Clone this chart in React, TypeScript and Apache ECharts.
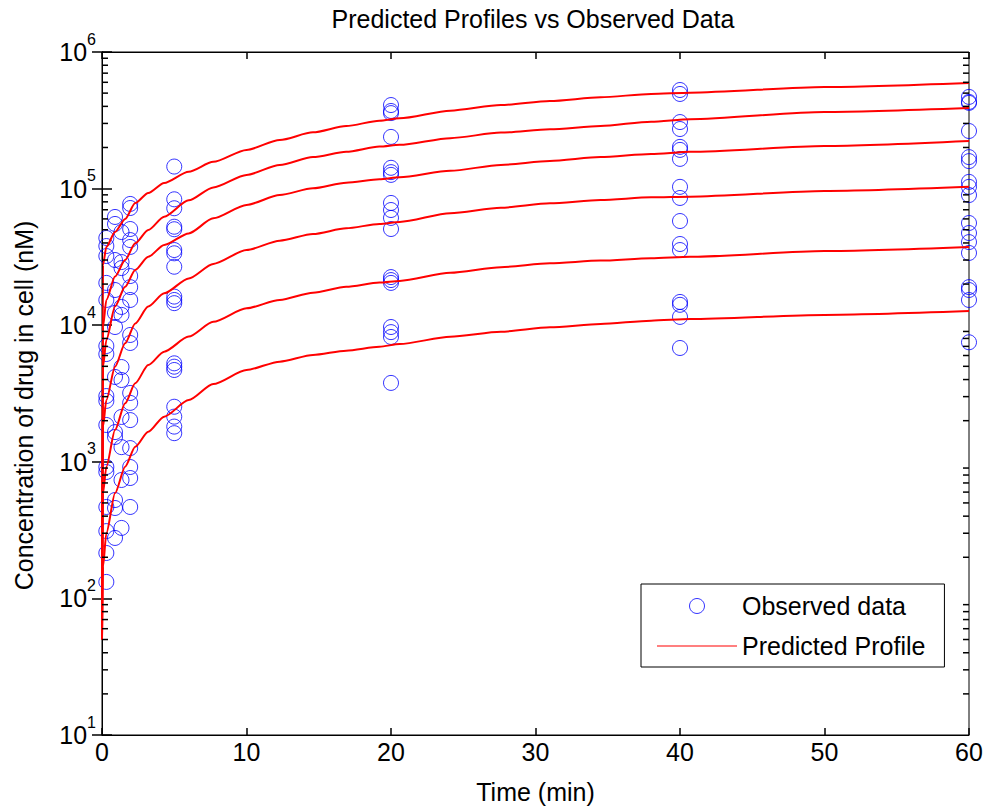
import React, { useEffect, useRef } from "react";
import * as echarts from "echarts";

// ---- data ----
const FONT = "'Liberation Sans', Arial, Helvetica, sans-serif";

// model profile time grid (min)
const profileTimes = [0, 0.07, 0.3, 0.9, 1.6, 2.3, 3.2, 4.3, 6, 7.7, 10, 12.3, 14.6, 16.9, 19.2, 20.6, 24.1, 27.6, 31, 34.5, 38, 40.7, 50, 60];

const profileDose1 = [50, 27600, 37400, 48100, 59900, 78500, 92900, 110000, 133000, 157000, 192000, 227000, 258000, 287000, 314000, 327000, 372000, 409000, 438000, 466000, 493000, 504000, 554000, 593000];
const profileDose2 = [50, 9750, 15300, 22700, 30000, 39800, 49800, 62300, 82000, 102000, 126000, 149000, 170000, 186000, 203000, 209000, 234000, 257000, 272000, 287000, 309000, 322000, 364000, 389000];
const profileDose3 = [50, 4970, 7790, 13700, 19100, 25400, 31700, 38700, 47000, 60600, 75900, 89800, 100500, 110500, 117000, 121000, 135000, 149000, 159000, 170000, 179000, 186000, 205000, 223000];
const profileDose4 = [50, 1810, 2830, 4970, 7370, 10300, 13700, 17100, 22000, 28100, 35500, 41600, 46500, 51200, 55100, 57000, 66000, 72500, 78100, 82500, 86400, 87300, 96000, 103000];
const profileDose5 = [50, 588, 921, 1710, 2680, 3760, 5110, 6400, 8250, 10600, 13300, 15300, 17300, 19100, 20500, 21100, 24200, 26600, 28400, 29700, 30900, 31700, 34900, 37400];
const profileDose6 = [50, 171, 300, 588, 921, 1290, 1660, 2140, 2830, 3710, 4700, 5410, 6050, 6510, 6960, 7280, 8240, 8960, 9650, 10200, 10800, 11100, 11900, 12700];
const profiles = [profileDose1, profileDose2, profileDose3, profileDose4, profileDose5, profileDose6];

// observed data: sampling times and concentrations (nM)
const obsTimes = [0.3, 0.9, 1.35, 1.95, 5, 20, 40, 60];
const obsT0 = [43500, 38000, 32100, 20400, 15300, 7040, 6150, 3030, 2790, 1860, 916, 842, 467, 311, 215, 132];
const obsT1 = [62000, 55100, 30000, 18100, 12300, 9700, 4180, 1650, 1520, 525, 459, 277];
const obsT2 = [48100, 29000, 26200, 13600, 11900, 4940, 3970, 2130, 1280, 736, 328];
const obsT3 = [77200, 72100, 50600, 42000, 37400, 22900, 19000, 15300, 8480, 7410, 3190, 2700, 2020, 1260, 916, 761, 467];
const obsT5 = [145000, 83500, 71800, 52600, 50400, 35500, 33600, 26800, 16200, 15300, 14500, 5260, 4970, 4700, 2530, 2140, 1810, 1620];
const obsT20 = [409000, 370000, 357000, 239000, 142000, 132000, 126000, 78500, 69700, 61000, 50600, 22500, 21400, 20400, 9700, 8900, 8200, 3780];
const obsT40 = [527000, 493000, 307000, 273000, 202000, 192000, 165000, 103000, 85400, 57900, 39300, 35500, 14800, 14100, 11500, 6810];
const obsT60 = [469000, 431000, 424000, 264000, 170000, 159000, 112000, 103000, 89700, 56000, 47300, 40600, 33800, 19000, 18100, 15300, 7500];
const obsValues = [obsT0, obsT1, obsT2, obsT3, obsT5, obsT20, obsT40, obsT60];

// axis ticks
const xTicks = [0, 10, 20, 30, 40, 50, 60];
const yMin = 10;
const yMax = 1000000;
const minorMultipliers = [2, 3, 4, 5, 6, 7, 8, 9];
const decades = [10, 100, 1000, 10000, 100000];

export default function App() {
  const ref = useRef<HTMLDivElement>(null);

  useEffect(() => {
    if (!ref.current) return;
    const chart = echarts.init(ref.current, undefined, { renderer: "svg" });

    const obsData: number[][] = [];
    obsTimes.forEach((t, i) => obsValues[i].forEach((v) => obsData.push([t, v])));

    const minorData: number[][] = [];
    decades.forEach((d) => minorMultipliers.forEach((m) => minorData.push([0, d * m])));

    const lineSeries = profiles.map((vals) => ({
      type: "line",
      name: "Predicted Profile",
      data: profileTimes.map((t, i) => [t, vals[i]]),
      symbol: "none",
      showSymbol: false,
      smooth: 0.25,
      smoothMonotone: "x",
      lineStyle: { color: "#ff0000", width: 2 },
      itemStyle: { color: "#ff0000" },
      silent: true,
      z: 3,
      emphasis: { disabled: true },
    }));

    const tickLabelRich = {
      b: { fontSize: 25, fontFamily: FONT, color: "#000", lineHeight: 42 },
      e: { fontSize: 16, fontFamily: FONT, color: "#000", lineHeight: 16, verticalAlign: "top" },
    };

    const option: any = {
      animation: false,
      backgroundColor: "#fff",
      title: {
        text: "Predicted Profiles vs Observed Data",
        left: 533,
        top: 6,
        padding: 0,
        textAlign: "center",
        textStyle: { fontSize: 25, fontWeight: "normal", color: "#000", fontFamily: FONT },
      },
      grid: {
        left: 102,
        top: 52,
        width: 867,
        height: 683,
        show: true,
        borderColor: "#000",
        borderWidth: 1,
        backgroundColor: "#fff",
      },
      legend: {
        orient: "vertical",
        left: 641,
        top: 584,
        padding: [8, 19, 7, 16],
        itemWidth: 80,
        itemHeight: 15,
        itemGap: 12,
        backgroundColor: "#fff",
        borderColor: "#000",
        borderWidth: 1,
        selectedMode: false,
        textStyle: { fontSize: 25, color: "#000", fontFamily: FONT, lineHeight: 28 },
        data: [
          {
            name: "Observed data",
            icon: "circle",
            itemStyle: { color: "rgba(0,0,0,0)", borderColor: "#0000ff", borderWidth: 1 },
          },
          {
            name: "Predicted Profile",
            icon: "path://M0 0H80V1H0Z",
            itemStyle: { color: "#ff0000", borderWidth: 0 },
          },
        ],
      },
      xAxis: [
        {
          type: "value",
          min: xTicks[0],
          max: xTicks[xTicks.length - 1],
          interval: 10,
          position: "bottom",
          name: "Time (min)",
          nameLocation: "middle",
          nameGap: 44,
          nameTextStyle: { fontSize: 25, color: "#000", fontFamily: FONT },
          axisLine: { show: true, lineStyle: { color: "#000", width: 1 } },
          axisTick: { show: true, inside: true, length: 7, lineStyle: { color: "#000", width: 1.5 } },
          axisLabel: { fontSize: 25, color: "#000", fontFamily: FONT, margin: 4 },
          splitLine: { show: false },
        },
        {
          type: "value",
          min: xTicks[0],
          max: xTicks[xTicks.length - 1],
          interval: 10,
          position: "top",
          axisLine: { show: true, lineStyle: { color: "#000", width: 1 } },
          axisTick: { show: true, inside: true, length: 7, lineStyle: { color: "#000", width: 1.5 } },
          axisLabel: { show: false },
          splitLine: { show: false },
        },
      ],
      yAxis: [
        {
          type: "log",
          logBase: 10,
          min: yMin,
          max: yMax,
          position: "left",
          name: "Concentration of drug in cell (nM)",
          nameLocation: "middle",
          nameGap: 66,
          nameTextStyle: { fontSize: 25, color: "#000", fontFamily: FONT, padding: [0, 24, 0, 0] },
          axisLine: { show: true, lineStyle: { color: "#000", width: 1 } },
          axisTick: { show: true, inside: true, length: 10, lineStyle: { color: "#000", width: 1.5 } },
          axisLabel: {
            margin: 6,
            formatter: (v: number) => "{b|10}{e|" + Math.round(Math.log10(v)) + "}",
            rich: tickLabelRich,
          },
          splitLine: { show: false },
        },
        {
          type: "log",
          logBase: 10,
          min: yMin,
          max: yMax,
          position: "right",
          axisLine: { show: true, lineStyle: { color: "#000", width: 1 } },
          axisTick: { show: true, inside: true, length: 10, lineStyle: { color: "#000", width: 1.5 } },
          axisLabel: { show: false },
          splitLine: { show: false },
        },
      ],
      series: [
        {
          type: "scatter",
          name: "Observed data",
          data: obsData,
          symbol: "circle",
          symbolSize: 15,
          itemStyle: { color: "rgba(0,0,0,0)", borderColor: "#0000ff", borderWidth: 1 },
          silent: true,
          z: 2,
          emphasis: { disabled: true },
        },
        ...lineSeries,
        {
          type: "custom",
          name: "minorTicks",
          data: minorData,
          silent: true,
          z: 4,
          clip: false,
          renderItem: (params: any, api: any) => {
            const v = api.value(1);
            const pl = api.coord([xTicks[0], v]);
            const pr = api.coord([xTicks[xTicks.length - 1], v]);
            return {
              type: "group",
              children: [
                { type: "line", shape: { x1: pl[0], y1: pl[1], x2: pl[0] + 6, y2: pl[1] }, style: { stroke: "#000", lineWidth: 1.5 } },
                { type: "line", shape: { x1: pr[0] - 6, y1: pr[1], x2: pr[0], y2: pr[1] }, style: { stroke: "#000", lineWidth: 1.5 } },
              ],
            };
          },
        },
      ],
    };

    chart.setOption(option);
    return () => chart.dispose();
  }, []);

  return <div ref={ref} style={{ position: "absolute", left: 0, top: 0, width: 987, height: 810 }} />;
}
